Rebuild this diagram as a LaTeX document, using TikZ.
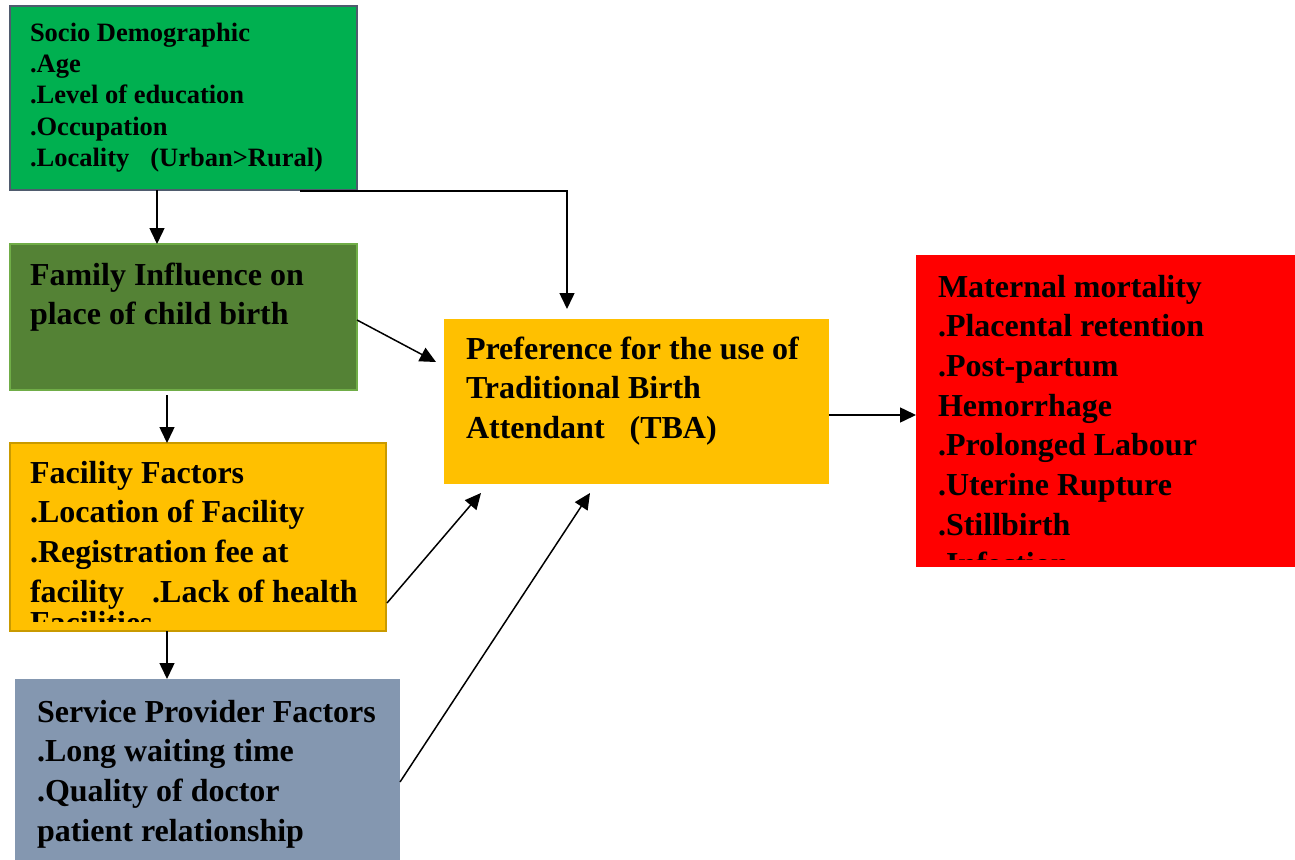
\documentclass[tikz,border=0pt]{standalone}
\usepackage{fontspec}
\setmainfont{Liberation Serif}
\usetikzlibrary{arrows.meta,calc}
\definecolor{sdgreen}{HTML}{00B050}
\definecolor{sdborder}{HTML}{4F5B6E}
\definecolor{famgreen}{HTML}{548235}
\definecolor{famborder}{HTML}{70AD47}
\definecolor{gold}{HTML}{FFC000}
\definecolor{goldborder}{HTML}{C99A00}
\definecolor{slate}{HTML}{8497B0}
\definecolor{matred}{HTML}{FF0000}
\newcommand\blines[1]{\vtop{\halign{##\hfil\cr#1\crcr}}}
\begin{document}
\begin{tikzpicture}[x=1pt,y=-1pt,
  bx/.style={line width=1.5pt, inner sep=0pt, outer sep=0pt, anchor=north west},
  txt/.style={anchor=base west, inner sep=0pt, outer sep=0pt, font=\bfseries\fontsize{32}{39.7}\selectfont},
  smtxt/.style={anchor=base west, inner sep=0pt, outer sep=0pt, font=\bfseries\fontsize{26.5}{31}\selectfont},
  arr/.style={line width=1.5pt, -{Triangle[length=16pt,width=15pt]}}]
\useasboundingbox[fill=white] (0,0) rectangle (1295,859);
% boxes
\node[bx, fill=sdgreen, draw=sdborder, minimum width=347, minimum height=184] (soc) at (10,6) {};
\node[bx, fill=famgreen, draw=famborder, minimum width=347, minimum height=146] (fam) at (10,244) {};
\node[bx, fill=gold, draw=goldborder, minimum width=376, minimum height=188] (fac) at (10,443) {};
\node[bx, fill=slate, minimum width=385, minimum height=185] (serv) at (15,679) {};
\node[bx, fill=gold, minimum width=385, minimum height=165] (pref) at (444,319) {};
\node[bx, fill=matred, minimum width=380, minimum height=312] (mat) at (916,255) {};
% texts
\node[smtxt] (soct) at (30,42) {\blines{Socio Demographic\cr .Age\cr .Level of education\cr .Occupation\cr .Locality\hspace{21pt}(Urban>Rural)}};
\node[txt] (famt) at (30,285) {\blines{Family Influence on\cr place of child birth}};
\node[txt] (fact) at (30,483) {\blines{Facility Factors\cr .Location of Facility\cr .Registration fee at\cr facility\hspace{28pt}.Lack of health}};
\begin{scope}
\clip (fac.north west) rectangle ($(fac.south east)+(0,-10)$);
\node[txt] (fact2) at (30,633) {Facilities};
\end{scope}
\node[txt] (servt) at (37,722) {\blines{Service Provider Factors\cr .Long waiting time\cr .Quality of doctor\cr patient relationship}};
\node[txt] (preft) at (466,359) {\blines{Preference for the use of\cr Traditional Birth\cr Attendant\hspace{25pt}(TBA)}};
\node[txt] (matt) at (938,297) {\blines{Maternal mortality\cr .Placental retention\cr .Post-partum\cr Hemorrhage\cr .Prolonged Labour\cr .Uterine Rupture\cr .Stillbirth}};
\begin{scope}
\clip (mat.north west) rectangle ($(mat.south east)+(0,-8)$);
\node[txt] (matt2) at (938,574) {.Infection};
\end{scope}
% connector end points
\path (soc.south west) ++(147,0) coordinate (s1)
      (fam.north west) ++(147,0) coordinate (f1)
      (soc.south west) ++(290,1) coordinate (s2)
      (pref.north west) ++(123,-10) coordinate (p1)
      (fam.north east) ++(0,76) coordinate (f2)
      (pref.north west) ++(-8,43) coordinate (p2)
      (fam.south west) ++(157,5) coordinate (f3)
      (fac.north west) ++(157,0) coordinate (c1)
      (fac.south east) ++(1,-28) coordinate (c2)
      (pref.south west) ++(37,9) coordinate (p3)
      (fac.south west) ++(157,0) coordinate (c3)
      (serv.north west) ++(152,0) coordinate (v1)
      (serv.north east) ++(0,103) coordinate (v2)
      (pref.south west) ++(146,9) coordinate (p4)
      (pref.east |- 0,415) coordinate (p5)
      (mat.west |- 0,415) coordinate (m1);
% connectors
\draw[arr] (s1) -- (f1);
\draw[arr] (s2) -| (p1);
\draw[arr] (f2) -- (p2);
\draw[arr] (f3) -- (c1);
\draw[arr] (c2) -- (p3);
\draw[arr] (c3) -- (v1);
\draw[arr] (v2) -- (p4);
\draw[arr] (p5) -- (m1);
\end{tikzpicture}
\end{document}
